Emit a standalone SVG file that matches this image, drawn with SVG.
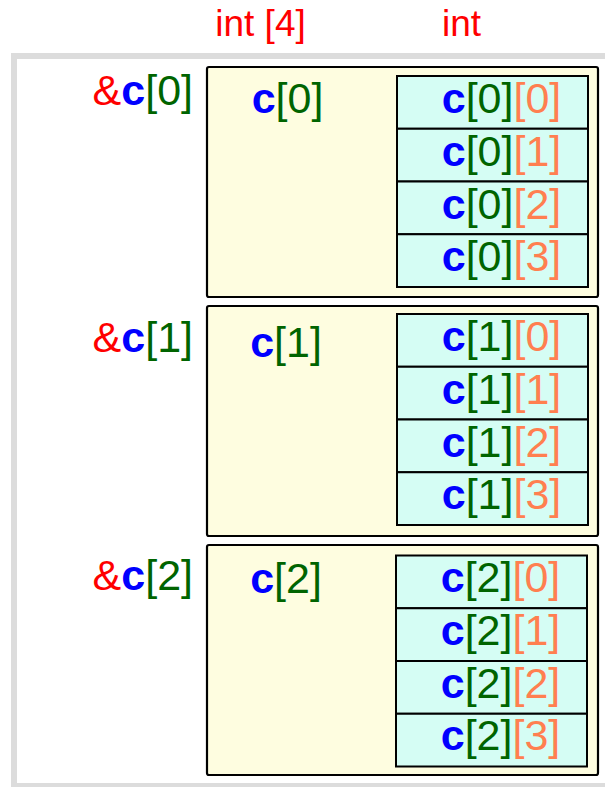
<svg xmlns="http://www.w3.org/2000/svg" width="605" height="787" viewBox="0 0 605 787">
<style>
text{font-family:"Liberation Sans",Arial,sans-serif;font-size:43px}
.hdr{font-size:37px;fill:#ff0000;text-anchor:middle}
.r{fill:#ff0000}.b{fill:#0000ff;font-weight:bold}.g{fill:#006400}.o{fill:#ff7f50}
.blk{fill:#fefde0;stroke:#000;stroke-width:2.2}
.cell{fill:#d5fdf4;stroke:#000;stroke-width:2}
.addr{text-anchor:end}.mid{text-anchor:middle}
</style>
<rect x="0" y="0" width="605" height="787" fill="#fff"/>
<rect x="14" y="56" width="620" height="730" fill="#fff" stroke="#dcdcdc" stroke-width="6"/>
<text class="hdr" x="260.5" y="36">int [4]</text>
<text class="hdr" x="461.5" y="36">int</text>
<g id="connectors"></g>
<g id="row0">
<text class="addr" x="193" y="105"><tspan class="r">&amp;</tspan><tspan class="b">c</tspan><tspan class="g">[0]</tspan></text>
<rect class="blk" x="207" y="67" width="391" height="230" rx="2"/>
<text class="mid" x="287.5" y="113"><tspan class="b">c</tspan><tspan class="g">[0]</tspan></text>
<rect class="cell" x="397" y="76" width="191" height="52.75"/>
<rect class="cell" x="397" y="128.75" width="191" height="52.75"/>
<rect class="cell" x="397" y="181.5" width="191" height="52.75"/>
<rect class="cell" x="397" y="234.25" width="191" height="52.75"/>
<text class="mid" x="501.5" y="113"><tspan class="b">c</tspan><tspan class="g">[0]</tspan><tspan class="o">[0]</tspan></text>
<text class="mid" x="501.5" y="165.75"><tspan class="b">c</tspan><tspan class="g">[0]</tspan><tspan class="o">[1]</tspan></text>
<text class="mid" x="501.5" y="218.5"><tspan class="b">c</tspan><tspan class="g">[0]</tspan><tspan class="o">[2]</tspan></text>
<text class="mid" x="501.5" y="271.25"><tspan class="b">c</tspan><tspan class="g">[0]</tspan><tspan class="o">[3]</tspan></text>
</g>
<g id="row1">
<text class="addr" x="193" y="352"><tspan class="r">&amp;</tspan><tspan class="b">c</tspan><tspan class="g">[1]</tspan></text>
<rect class="blk" x="207" y="306" width="391" height="230" rx="2"/>
<text class="mid" x="286" y="357"><tspan class="b">c</tspan><tspan class="g">[1]</tspan></text>
<rect class="cell" x="397" y="314" width="191" height="52.75"/>
<rect class="cell" x="397" y="366.75" width="191" height="52.75"/>
<rect class="cell" x="397" y="419.5" width="191" height="52.75"/>
<rect class="cell" x="397" y="472.25" width="191" height="52.75"/>
<text class="mid" x="501.5" y="351"><tspan class="b">c</tspan><tspan class="g">[1]</tspan><tspan class="o">[0]</tspan></text>
<text class="mid" x="501.5" y="403.75"><tspan class="b">c</tspan><tspan class="g">[1]</tspan><tspan class="o">[1]</tspan></text>
<text class="mid" x="501.5" y="456.5"><tspan class="b">c</tspan><tspan class="g">[1]</tspan><tspan class="o">[2]</tspan></text>
<text class="mid" x="501.5" y="509.25"><tspan class="b">c</tspan><tspan class="g">[1]</tspan><tspan class="o">[3]</tspan></text>
</g>
<g id="row2">
<text class="addr" x="193" y="590"><tspan class="r">&amp;</tspan><tspan class="b">c</tspan><tspan class="g">[2]</tspan></text>
<rect class="blk" x="207" y="545" width="391" height="230" rx="2"/>
<text class="mid" x="286" y="593"><tspan class="b">c</tspan><tspan class="g">[2]</tspan></text>
<rect class="cell" x="396" y="555.5" width="191" height="52.75"/>
<rect class="cell" x="396" y="608.25" width="191" height="52.75"/>
<rect class="cell" x="396" y="661" width="191" height="52.75"/>
<rect class="cell" x="396" y="713.75" width="191" height="52.75"/>
<text class="mid" x="500.5" y="592"><tspan class="b">c</tspan><tspan class="g">[2]</tspan><tspan class="o">[0]</tspan></text>
<text class="mid" x="500.5" y="644.75"><tspan class="b">c</tspan><tspan class="g">[2]</tspan><tspan class="o">[1]</tspan></text>
<text class="mid" x="500.5" y="697.5"><tspan class="b">c</tspan><tspan class="g">[2]</tspan><tspan class="o">[2]</tspan></text>
<text class="mid" x="500.5" y="750.25"><tspan class="b">c</tspan><tspan class="g">[2]</tspan><tspan class="o">[3]</tspan></text>
</g>
</svg>
